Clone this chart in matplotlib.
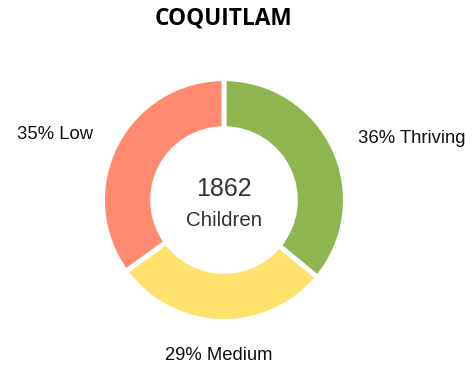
import matplotlib.pyplot as plt

plt.rcParams['font.family'] = ['Liberation Sans', 'DejaVu Sans']

city = "COQUITLAM"
total_children = 1862
categories = ["Thriving", "Medium", "Low"]
shares = [36, 29, 35]
colors = ["#8fb550", "#ffe16e", "#ff8a70"]

fig = plt.figure(figsize=(4.77, 3.69), dpi=100)
ax = fig.add_axes([0, 0, 1, 1])

ax.pie(shares, colors=colors, startangle=90, counterclock=False, radius=1.02,
       wedgeprops=dict(width=0.42, edgecolor="white", linewidth=3.5))

ax.set_aspect("auto")
ax.set_xlim(-1.882, 2.126)
ax.set_ylim(-1.420, 1.681)
ax.axis("off")

# slice labels
label_pos = {"Thriving": (1.58, 0.52), "Medium": (-0.04, -1.31), "Low": (-1.42, 0.55)}
for cat, val in zip(categories, shares):
    x, y = label_pos[cat]
    ax.text(x, y, f"{val}% {cat}", ha="center", va="center", fontsize=13.3, color="#111111")

# centre total
ax.text(0, 0.09, f"{total_children}", ha="center", va="center", fontsize=18, color="#333333")
ax.text(0, -0.17, "Children", ha="center", va="center", fontsize=14.8, color="#333333")

fig.text(223.5 / 477, 1 - 18.5 / 369, city, ha="center", va="center",
         fontsize=16.3, fontweight="bold", family=["Open Sans", "DejaVu Sans"])

fig.savefig("out.png", dpi=100)
